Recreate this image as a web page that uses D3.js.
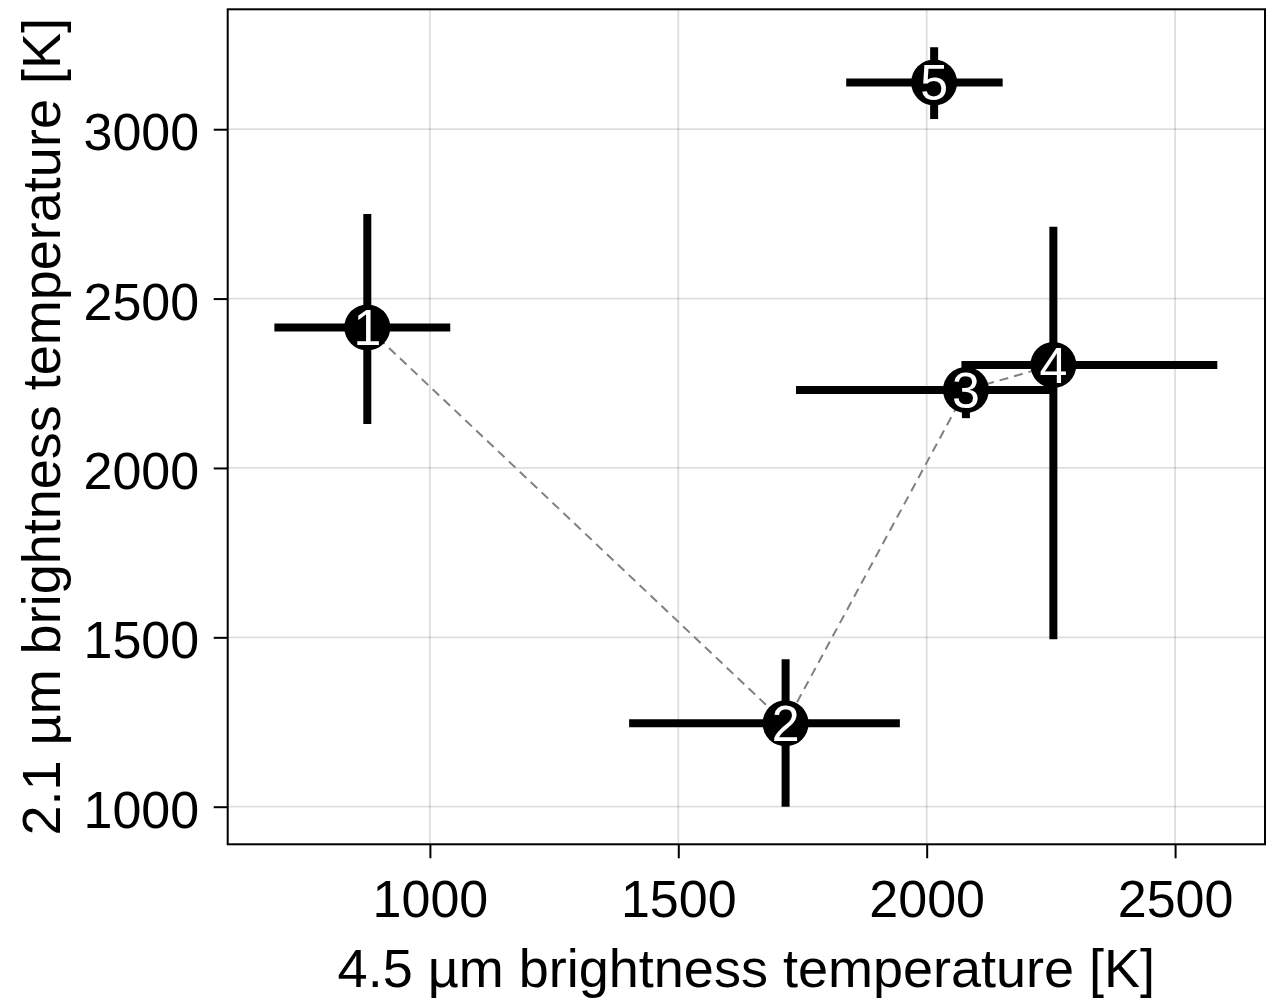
<!DOCTYPE html>
<html>
<head>
<meta charset="utf-8">
<script src="https://cdn.jsdelivr.net/npm/d3@7"></script>
<style>
  body { margin: 0; background: #fff; }
  text { font-family: "Liberation Sans", Arial, Helvetica, sans-serif; }
</style>
</head>
<body>
<svg id="chart"></svg>
<script>
// observations (brightness temperatures in K, with asymmetric error ranges)
const labels = ['1', '2', '3', '4', '5']
const t45 = [874, 1716, 2079, 2255, 2015]
const t45Lo = [687, 1401, 1737, 2070, 1838]
const t45Hi = [1041, 1946, 2250, 2585, 2153]
const t21 = [2415, 1246, 2230, 2304, 3138]
const t21Lo = [2130, 1000, 2147, 1494, 3030]
const t21Hi = [2750, 1435, 2314, 2712, 3242]
// points joined by the dashed track
const track = ['1', '2', '3', '4']

const xTicks = [1000, 1500, 2000, 2500]
const yTicks = [1000, 1500, 2000, 2500, 3000]

const width = 1267
const height = 1002
const margin = {top: 9.3, right: 2, bottom: 157.7, left: 227.7}
const innerW = width - margin.left - margin.right
const innerH = height - margin.top - margin.bottom

const data = labels.map((l, i) => ({
  label: l, x: t45[i], xlo: t45Lo[i], xhi: t45Hi[i],
  y: t21[i], ylo: t21Lo[i], yhi: t21Hi[i]
}))

const x = d3.scaleLinear().domain([593, 2681]).range([0, innerW])
const y = d3.scaleLinear().domain([889, 3354]).range([innerH, 0])

const svg = d3.select('#chart').attr('width', width).attr('height', height)
const g = svg.append('g').attr('transform', `translate(${margin.left},${margin.top})`)

// grid
g.append('g').selectAll('line').data(xTicks).enter().append('line')
  .attr('x1', d => x(d)).attr('x2', d => x(d)).attr('y1', 0).attr('y2', innerH)
  .attr('stroke', '#000').attr('stroke-opacity', 0.13).attr('stroke-width', 1.8)
g.append('g').selectAll('line').data(yTicks).enter().append('line')
  .attr('y1', d => y(d)).attr('y2', d => y(d)).attr('x1', 0).attr('x2', innerW)
  .attr('stroke', '#000').attr('stroke-opacity', 0.13).attr('stroke-width', 1.8)

// axes
const xAxis = g.append('g').attr('transform', `translate(0,${innerH})`)
  .call(d3.axisBottom(x).tickValues(xTicks).tickSize(14).tickPadding(0).tickFormat(d3.format('d')))
const yAxis = g.append('g')
  .call(d3.axisLeft(y).tickValues(yTicks).tickSize(14).tickPadding(0).tickFormat(d3.format('d')))
for (const ax of [xAxis, yAxis]) {
  ax.select('.domain').remove()
  ax.selectAll('line').attr('stroke', '#000').attr('stroke-width', 2)
  ax.selectAll('text').attr('font-size', 52).attr('fill', '#000')
    .attr('font-family', '"Liberation Sans", Arial, sans-serif')
}
xAxis.selectAll('text').attr('dy', null).attr('y', 72.5)
yAxis.selectAll('text').attr('dy', null).attr('x', -28.5).attr('y', 20.5)

// frame
g.append('rect').attr('width', innerW).attr('height', innerH)
  .attr('fill', 'none').attr('stroke', '#000').attr('stroke-width', 2)

// dashed track
const trackPts = data.filter(d => track.includes(d.label))
g.append('path').datum(trackPts)
  .attr('d', d3.line().x(d => x(d.x)).y(d => y(d.y)))
  .attr('fill', 'none').attr('stroke', '#808080').attr('stroke-width', 2)
  .attr('stroke-dasharray', '9,6')

// error bars
const pts = g.append('g').selectAll('g').data(data).enter().append('g')
pts.append('line')
  .attr('x1', d => x(d.xlo)).attr('x2', d => x(d.xhi))
  .attr('y1', d => y(d.y)).attr('y2', d => y(d.y))
  .attr('stroke', '#000').attr('stroke-width', 8)
pts.append('line')
  .attr('x1', d => x(d.x)).attr('x2', d => x(d.x))
  .attr('y1', d => y(d.ylo)).attr('y2', d => y(d.yhi))
  .attr('stroke', '#000').attr('stroke-width', 8)

// numbered markers
const marks = g.append('g').selectAll('g').data(data).enter().append('g')
  .attr('transform', d => `translate(${x(d.x)},${y(d.y)})`)
marks.append('circle').attr('r', 23).attr('fill', '#000')
marks.append('text').text(d => d.label)
  .attr('text-anchor', 'middle').attr('y', 18)
  .attr('font-size', 50).attr('fill', '#fff')

// axis titles
svg.append('text').text('4.5 µm brightness temperature [K]')
  .attr('x', margin.left + innerW / 2).attr('y', 986.7)
  .attr('text-anchor', 'middle').attr('font-size', 54).attr('fill', '#000')
svg.append('text').text('2.1 µm brightness temperature [K]')
  .attr('transform', `translate(60,${margin.top + innerH / 2}) rotate(-90)`)
  .attr('text-anchor', 'middle').attr('font-size', 54).attr('fill', '#000')
</script>
</body>
</html>
